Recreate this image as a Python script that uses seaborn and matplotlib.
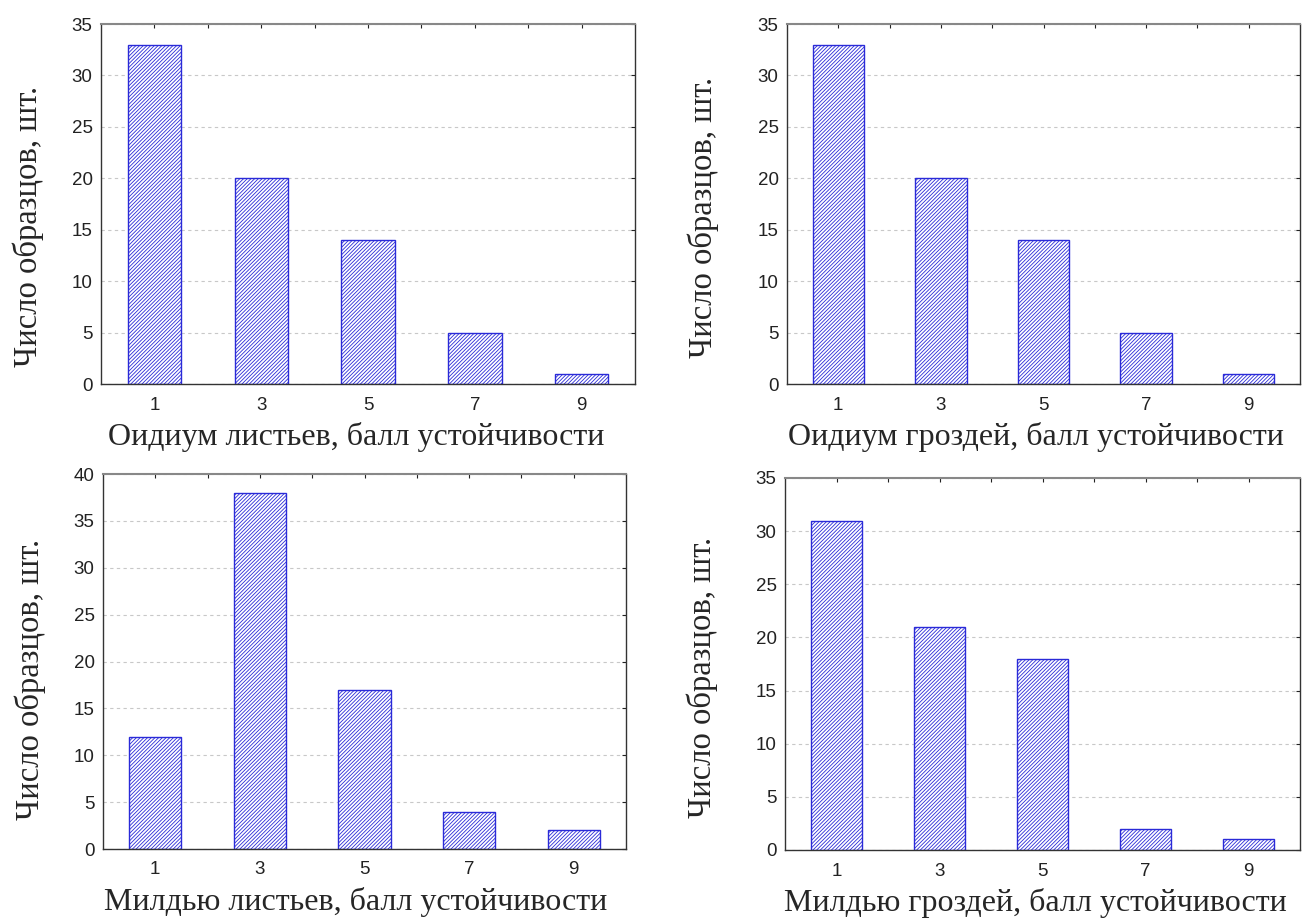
import matplotlib
matplotlib.use("Agg")
import matplotlib.pyplot as plt
import seaborn as sns

sns.set_style("white")
plt.rcParams['font.family'] = ['Liberation Sans', 'DejaVu Sans']
plt.rcParams['hatch.linewidth'] = 0.6

# data
scores = [1, 3, 5, 7, 9]
oidium_leaves = [33, 20, 14, 5, 1]
oidium_bunches = [33, 20, 14, 5, 1]
mildew_leaves = [12, 38, 17, 4, 2]
mildew_bunches = [31, 21, 18, 2, 1]

xlabels = ["Оидиум листьев, балл устойчивости",
           "Оидиум гроздей, балл устойчивости",
           "Милдью листьев, балл устойчивости",
           "Милдью гроздей, балл устойчивости"]
ylabel = "Число образцов, шт."
ymax = [35, 35, 40, 35]
series = [oidium_leaves, oidium_bunches, mildew_leaves, mildew_bunches]

W, H = 1302, 918
boxes = [(101, 24, 635, 384), (787, 24, 1300, 384),
         (103, 474, 626, 849), (785, 478, 1300, 850)]
# label offsets in pixels: (ylabel pad, ylabel shift down, xlabel shift left)
offsets = [(20, 22, 12), (28, 13, 8), (20, 18, 9), (27, 13, 7)]

fig = plt.figure(figsize=(W / 100, H / 100), dpi=100)

for (x0, y0, x1, y1), vals, xl, ym, (pad, dy, dx) in zip(boxes, series, xlabels, ymax, offsets):
    ax = fig.add_axes([x0 / W, 1 - y1 / H, (x1 - x0) / W, (y1 - y0) / H])
    sns.barplot(x=scores, y=vals, native_scale=True, width=0.5,
                color="white", edgecolor="#2a2ad8", linewidth=1.0,
                hatch="/////////", ax=ax, zorder=2)
    ax.set_xlim(0, 10)
    ax.set_ylim(0, ym)
    ax.set_xticks(range(1, 10))
    ax.set_xticklabels([str(i) if i % 2 else "" for i in range(1, 10)])
    ax.set_yticks(range(0, ym + 1, 5))
    ax.tick_params(direction="in", length=3, width=0.8, top=True, right=True,
                   labelsize=13.5, pad=6, colors="#222222")
    ax.tick_params(axis="x", pad=9)
    ax.yaxis.grid(True, linestyle=(0, (3, 3)), color="#c8c8c8", linewidth=0.8, zorder=0)
    ax.set_axisbelow(True)
    for s in ["left", "bottom", "right"]:
        ax.spines[s].set_color("#333333")
        ax.spines[s].set_linewidth(1.0)
    ax.spines["top"].set_color("#888888")
    ax.spines["top"].set_linewidth(1.5)
    ax.set_xlabel(xl, family=["Liberation Serif"], fontsize=23, labelpad=6,
                  x=0.5 - dx / (x1 - x0))
    ax.set_ylabel(ylabel, family=["Liberation Serif"], fontsize=23.5, labelpad=pad,
                  y=0.5 - dy / (y1 - y0))

fig.savefig("out.png", dpi=100)
